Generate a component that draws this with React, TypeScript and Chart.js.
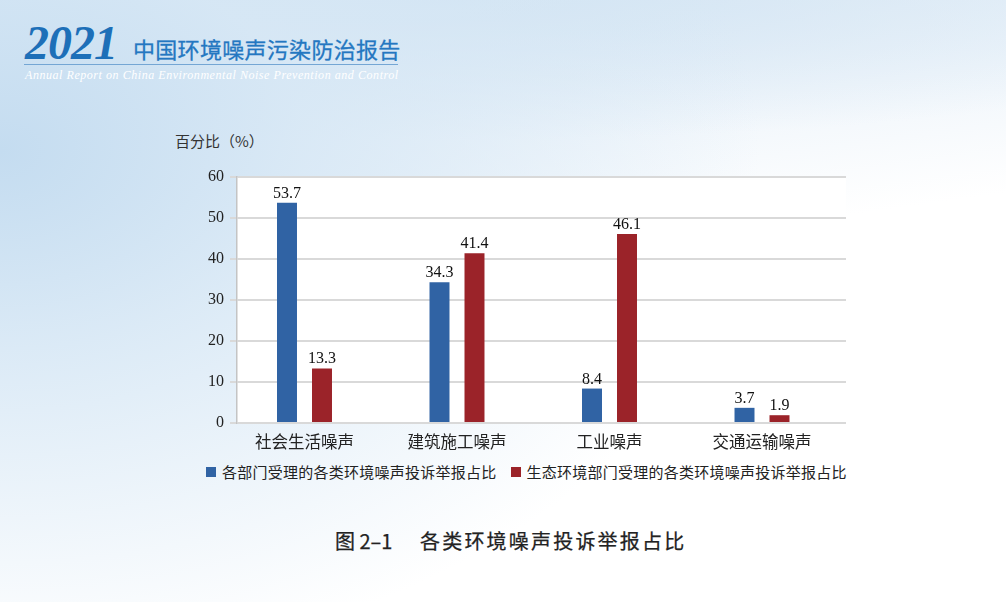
import React, { useEffect, useRef } from 'react';
import { Chart, registerables } from 'chart.js';

Chart.register(...registerables);

const CATEGORIES = ['社会生活噪声', '建筑施工噪声', '工业噪声', '交通运输噪声'];
const SERIES_A_LABEL = '各部门受理的各类环境噪声投诉举报占比';
const SERIES_A = [53.7, 34.3, 8.4, 3.7];
const SERIES_B_LABEL = '生态环境部门受理的各类环境噪声投诉举报占比';
const SERIES_B = [13.3, 41.4, 46.1, 1.9];
const Y_MIN = 0;
const Y_MAX = 60;
const Y_STEP = 10;
const COLOR_A = '#3063a4';
const COLOR_B = '#9b2329';

const SERIF = '"Liberation Serif", "DejaVu Serif", serif';
const CJK = '"Noto Sans CJK SC", "Noto Sans", sans-serif';

const plotBackground = {
  id: 'plotBackground',
  beforeDraw(chart: any) {
    const { ctx, chartArea } = chart;
    ctx.save();
    ctx.fillStyle = '#ffffff';
    ctx.fillRect(chartArea.left, chartArea.top, chartArea.right - chartArea.left, chartArea.bottom - chartArea.top);
    ctx.restore();
  },
};

const valueLabels = {
  id: 'valueLabels',
  afterDatasetsDraw(chart: any) {
    const { ctx } = chart;
    ctx.save();
    ctx.font = `16px ${SERIF}`;
    ctx.fillStyle = '#111111';
    ctx.textAlign = 'center';
    ctx.textBaseline = 'alphabetic';
    chart.data.datasets.forEach((ds: any, di: number) => {
      const meta = chart.getDatasetMeta(di);
      meta.data.forEach((el: any, i: number) => {
        const v = ds.data[i].y;
        ctx.fillText(v.toFixed(1), el.x, el.y - 5);
      });
    });
    ctx.restore();
  },
};

function ChartCanvas() {
  const ref = useRef<HTMLCanvasElement | null>(null);
  useEffect(() => {
    if (!ref.current) return;
    const chart = new Chart(ref.current, {
      type: 'bar',
      data: {
        datasets: [
          {
            label: SERIES_A_LABEL,
            data: SERIES_A.map((y, i) => ({ x: i, y })),
            backgroundColor: COLOR_A,
            borderWidth: 0,
          },
          {
            label: SERIES_B_LABEL,
            data: SERIES_B.map((y, i) => ({ x: i, y })),
            backgroundColor: COLOR_B,
            borderWidth: 0,
          },
        ],
      },
      options: {
        responsive: false,
        animation: false,
        devicePixelRatio: 1,
        datasets: { bar: { categoryPercentage: 0.459, barPercentage: 0.571 } } as any,
        layout: { padding: { left: 170, right: 160, top: 177, bottom: 7 } },
        plugins: {
          legend: { display: false },
          tooltip: { enabled: false },
        },
        scales: {
          x: {
            type: 'linear',
            offset: false,
            min: -0.4426,
            max: 3.5508,
            grid: { display: false, drawTicks: false, offset: false },
            border: { display: false },
            afterFit: (s: any) => { s.height = 30; },
            ticks: {
              stepSize: 1,
              includeBounds: false,
              autoSkip: false,
              maxRotation: 0,
              padding: 9,
              color: '#222222',
              font: { family: CJK, size: 16.5 },
              callback: (v: any) => CATEGORIES[Math.round(v)] ?? '',
            },
          },
          y: {
            min: Y_MIN,
            max: Y_MAX,
            afterFit: (s: any) => { s.width = 67; },
            grid: { color: '#d9d9d9', lineWidth: 2, tickLength: 7, drawTicks: true },
            border: { display: true, color: '#c4c4c4', width: 1.5 },
            ticks: {
              stepSize: Y_STEP,
              padding: 6,
              color: '#222222',
              font: { family: SERIF, size: 16 },
            },
          },
        },
      },
      plugins: [plotBackground, valueLabels],
    });
    return () => chart.destroy();
  }, []);
  return (
    <canvas
      ref={ref}
      width={1006}
      height={460}
      style={{ position: 'absolute', left: 0, top: 0, width: 1006, height: 460 }}
    />
  );
}

export default function App() {
  return (
    <div
      style={{
        position: 'fixed',
        left: 0,
        top: 0,
        width: 1006,
        height: 602,
        overflow: 'hidden',
        background:
          'radial-gradient(ellipse 760px 520px at 0% 25%, rgba(196,220,240,1) 0%, rgba(214,231,245,0.85) 40%, rgba(255,255,255,0) 100%), radial-gradient(ellipse 900px 140px at 45% 0%, rgba(210,228,243,0.9) 0%, rgba(255,255,255,0) 100%), linear-gradient(172deg, #d6e7f4 0%, #e8f1f9 18%, #ffffff 45%)',
      }}
    >
      <div
        style={{
          position: 'absolute',
          left: 25,
          top: 17,
          fontFamily: SERIF,
          fontStyle: 'italic',
          fontWeight: 'bold',
          fontSize: 48,
          lineHeight: '52px',
          color: '#1d6fb8',
          letterSpacing: -1,
        }}
      >
        2021
      </div>
      <div
        style={{
          position: 'absolute',
          left: 133,
          top: 34,
          fontFamily: CJK,
          fontSize: 22,
          lineHeight: '28px',
          color: '#2477c1',
          letterSpacing: 0.3,
          WebkitTextStroke: '0.3px #2477c1',
        }}
      >
        中国环境噪声污染防治报告
      </div>
      <div style={{ position: 'absolute', left: 24, top: 64, width: 374, height: 1, background: '#74a6d4' }} />
      <div
        style={{
          position: 'absolute',
          left: 25,
          top: 67,
          fontFamily: SERIF,
          fontStyle: 'italic',
          fontSize: 12,
          lineHeight: '16px',
          color: '#ffffff',
          letterSpacing: 0.55,
          whiteSpace: 'nowrap',
        }}
      >
        Annual Report on China Environmental Noise Prevention and Control
      </div>
      <div
        style={{
          position: 'absolute',
          left: 175,
          top: 131,
          fontFamily: CJK,
          fontSize: 15,
          lineHeight: '20px',
          color: '#333333',
        }}
      >
        百分比（%）
      </div>
      <ChartCanvas />
      <div
        style={{
          position: 'absolute',
          left: 206,
          top: 462,
          fontFamily: CJK,
          fontSize: 15,
          lineHeight: '20px',
          color: '#222222',
          display: 'flex',
          alignItems: 'center',
          whiteSpace: 'nowrap',
        }}
      >
        <span style={{ display: 'inline-block', width: 10, height: 10, background: COLOR_A, marginRight: 6 }} />
        <span style={{ letterSpacing: 0.25 }}>{SERIES_A_LABEL}</span>
        <span style={{ display: 'inline-block', width: 10, height: 10, background: COLOR_B, marginLeft: 14, marginRight: 6 }} />
        <span style={{ letterSpacing: 0.25 }}>{SERIES_B_LABEL}</span>
      </div>
      <div
        style={{
          position: 'absolute',
          left: 335,
          top: 527,
          fontFamily: CJK,
          fontSize: 20,
          lineHeight: '28px',
          color: '#222222',
          WebkitTextStroke: '0.25px #222222',
          whiteSpace: 'nowrap',
        }}
      >
        图 2–1
      </div>
      <div
        style={{
          position: 'absolute',
          left: 420,
          top: 527,
          fontFamily: CJK,
          fontSize: 20,
          lineHeight: '28px',
          color: '#222222',
          WebkitTextStroke: '0.25px #222222',
          letterSpacing: 2.2,
          whiteSpace: 'nowrap',
        }}
      >
        各类环境噪声投诉举报占比
      </div>
    </div>
  );
}
